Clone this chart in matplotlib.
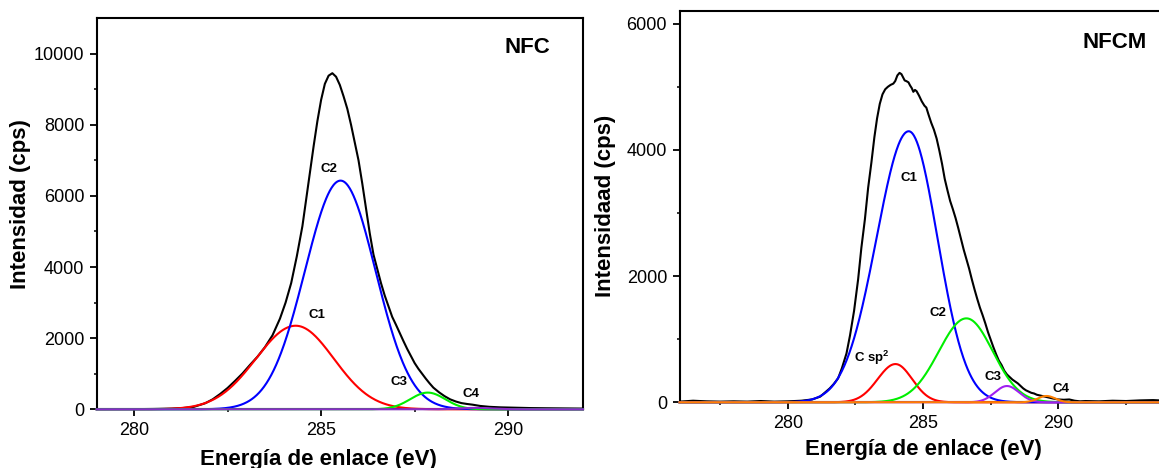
import numpy as np
import matplotlib
matplotlib.use("Agg")
import matplotlib.pyplot as plt

plt.rcParams['font.family'] = ['Liberation Sans', 'DejaVu Sans']

# ---------------- NFC spectrum (C 1s) ----------------
nfc_energy = [279.0, 279.5, 280.0, 280.5, 281.0, 281.3, 281.6, 281.9, 282.1, 282.3,
              282.5, 282.7, 282.9, 283.1, 283.3, 283.5, 283.7, 283.9, 284.05, 284.2,
              284.35, 284.5, 284.6, 284.7, 284.8, 284.9, 285.0, 285.1, 285.2, 285.3,
              285.4, 285.5, 285.6, 285.7, 285.8, 285.9, 286.0, 286.1, 286.2, 286.3,
              286.4, 286.5, 286.6, 286.7, 286.8, 286.9, 287.0, 287.1, 287.2, 287.3,
              287.4, 287.5, 287.6, 287.7, 287.8, 287.9, 288.0, 288.15, 288.3, 288.45,
              288.6, 288.75, 288.9, 289.05, 289.25, 289.5, 289.8, 290.2, 290.6, 291.0,
              291.5, 292.0]
nfc_counts = [0, 5, 5, 10, 20, 35, 70, 170, 280, 430,
              600, 800, 1010, 1250, 1480, 1750, 2080, 2550, 3000, 3550,
              4300, 5150, 5900, 6650, 7400, 8100, 8700, 9150, 9380, 9450,
              9350, 9120, 8800, 8450, 8000, 7500, 7000, 6350, 5650, 4950,
              4350, 3950, 3550, 3200, 2900, 2600, 2380, 2150, 1920, 1700,
              1500, 1300, 1140, 1000, 860, 730, 610, 480, 370, 280,
              220, 175, 150, 130, 95, 70, 55, 45, 35, 30,
              25, 20]

# fitted components: centre (eV), height (cps), FWHM of low / high energy side (eV)
nfc_names = ['C1', 'C2', 'C3', 'C4']
nfc_centers = [284.32, 285.52, 287.85, 289.1]
nfc_heights = [2350, 6430, 470, 40]
nfc_fwhm_low = [2.5, 2.24, 1.1, 1.0]
nfc_fwhm_high = [2.4, 2.2, 1.1, 1.0]
nfc_colors = ['#FF0000', '#0000FF', '#00EE00', '#8A2BC8']
nfc_label_pos = [(284.90, 2650), (285.20, 6760), (287.07, 780), (289.01, 430)]

# ---------------- NFCM spectrum (C 1s) ----------------
nfcm_energy = [276.0, 276.5, 277.0, 277.5, 278.0, 278.5, 279.0, 279.5, 280.0, 280.5,
               280.9, 281.2, 281.55, 281.7, 281.86, 282.0, 282.17, 282.3, 282.45, 282.6,
               282.72, 282.85, 282.97, 283.09, 283.2, 283.3, 283.4, 283.5, 283.6, 283.7,
               283.8, 283.9, 283.97, 284.05, 284.13, 284.2, 284.26, 284.32, 284.38, 284.46,
               284.52, 284.58, 284.64, 284.7, 284.76, 284.85, 284.95, 285.05, 285.12, 285.2,
               285.3, 285.4, 285.5, 285.6, 285.7, 285.8, 285.9, 286.0, 286.1, 286.2,
               286.3, 286.4, 286.5, 286.6, 286.7, 286.8, 286.9, 287.0, 287.1, 287.2,
               287.3, 287.4, 287.5, 287.6, 287.7, 287.8, 287.9, 288.0, 288.1, 288.2,
               288.3, 288.4, 288.5, 288.6, 288.7, 288.8, 288.9, 289.0, 289.1, 289.2,
               289.35, 289.5, 289.65, 289.8, 290.0, 290.2, 290.4, 290.6, 290.8, 291.0,
               291.5, 292.0, 292.5, 293.0, 293.5, 294.0]
nfcm_counts = [10, 25, 15, 10, 15, 10, 20, 10, 15, 25,
               45, 90, 220, 290, 380, 540, 775, 1060, 1450, 1950,
               2450, 2900, 3400, 3800, 4200, 4500, 4730, 4880, 4960, 5000,
               5030, 5050, 5090, 5180, 5220, 5200, 5150, 5100, 5090, 5070,
               5020, 4980, 4920, 4950, 4930, 4860, 4770, 4700, 4670, 4560,
               4430, 4320, 4180, 3990, 3780, 3540, 3360, 3190, 3060, 2920,
               2760, 2590, 2420, 2270, 2120, 1950, 1790, 1640, 1500, 1380,
               1250, 1110, 990, 870, 760, 660, 590, 500, 440, 400,
               360, 330, 300, 260, 220, 190, 170, 150, 140, 120,
               105, 90, 75, 60, 45, 40, 45, 25, 15, 20,
               15, 25, 20, 30, 35, 25]

nfcm_names = ['C sp$^{\\mathregular{2}}$', 'C1', 'C2', 'C3', 'C4']
nfcm_centers = [283.98, 284.47, 286.6, 288.1, 289.56]
nfcm_heights = [606, 4295, 1330, 258, 100]
nfcm_fwhm_low = [1.55, 2.8, 2.4, 1.05, 0.75]
nfcm_fwhm_high = [1.45, 2.5, 2.3, 1.05, 0.75]
nfcm_colors = ['#FF0000', '#0000FF', '#00EE00', '#A020F0', '#FF7F00']
nfcm_label_pos = [(283.11, 700), (284.46, 3550), (285.54, 1410), (287.59, 405), (290.09, 210)]


def split_gauss(e, center, height, fwhm_low, fwhm_high):
    k = 2.0 * np.sqrt(2.0 * np.log(2.0))
    sigma = np.where(e < center, fwhm_low / k, fwhm_high / k)
    return height * np.exp(-0.5 * ((e - center) / sigma) ** 2)


def style_axes(ax):
    for sp in ax.spines.values():
        sp.set_linewidth(1.5)
    ax.tick_params(which='major', direction='out', length=5, width=1.3,
                   labelsize=13, pad=4)
    ax.tick_params(which='minor', direction='out', length=2.5, width=1.1)
    ax.tick_params(top=False, right=False)


fig = plt.figure(figsize=(11.59, 4.68), dpi=100)

# ---- left panel ----
ax1 = fig.add_axes([0.0834, 0.1254, 0.4196, 0.836])
e1 = np.linspace(279, 292, 800)
ax1.plot(nfc_energy, nfc_counts, color='black', lw=1.5, zorder=3)
for c, h, wl, wh, col in zip(nfc_centers, nfc_heights, nfc_fwhm_low, nfc_fwhm_high, nfc_colors):
    ax1.plot(e1, split_gauss(e1, c, h, wl, wh), color=col, lw=1.5, zorder=4, clip_on=False)
for name, (x, y) in zip(nfc_names, nfc_label_pos):
    ax1.text(x, y, name, fontsize=9.5, fontweight='bold', ha='center', va='center')
ax1.text(0.885, 0.926, 'NFC', transform=ax1.transAxes, fontsize=16,
         fontweight='bold', ha='center', va='center')
ax1.set_xlim(279, 292)
ax1.set_ylim(0, 11000)
ax1.set_xticks([280, 285, 290])
ax1.set_xticks([282.5, 287.5], minor=True)
ax1.set_yticks([0, 2000, 4000, 6000, 8000, 10000])
ax1.set_yticks([1000, 3000, 5000, 7000, 9000], minor=True)
style_axes(ax1)

# ---- right panel ----
ax2 = fig.add_axes([0.5863, 0.1404, 0.4203, 0.836])
e2 = np.linspace(276, 294, 1000)
ax2.plot(nfcm_energy, nfcm_counts, color='black', lw=1.5, zorder=3)
for c, h, wl, wh, col in zip(nfcm_centers, nfcm_heights, nfcm_fwhm_low, nfcm_fwhm_high, nfcm_colors):
    ax2.plot(e2, split_gauss(e2, c, h, wl, wh), color=col, lw=1.5, zorder=4, clip_on=False)
for name, (x, y) in zip(nfcm_names, nfcm_label_pos):
    ax2.text(x, y, name, fontsize=9.5, fontweight='bold', ha='center', va='center')
ax2.text(292.09, 5700, 'NFCM', fontsize=16, fontweight='bold',
         ha='center', va='center')
ax2.set_xlim(276, 294)
ax2.set_ylim(0, 6200)
ax2.set_xticks([280, 285, 290])
ax2.set_xticks([277.5, 282.5, 287.5, 292.5], minor=True)
ax2.set_yticks([0, 2000, 4000, 6000])
ax2.set_yticks([1000, 3000, 5000], minor=True)
style_axes(ax2)

# axis titles
fig.text(21 / 1159, 1 - 204 / 468, 'Intensidad (cps)', rotation=90, fontsize=16,
         fontweight='bold', ha='center', va='center')
fig.text(606 / 1159, 1 - 206 / 468, 'Intensidaad (cps)', rotation=90, fontsize=16,
         fontweight='bold', ha='center', va='center')
fig.text(318 / 1159, 1 - 459 / 468, 'Energía de enlace (eV)', fontsize=16,
         fontweight='bold', ha='center', va='center')
fig.text(923 / 1159, 1 - 449 / 468, 'Energía de enlace (eV)', fontsize=16,
         fontweight='bold', ha='center', va='center')

fig.savefig('out.png', dpi=100)
